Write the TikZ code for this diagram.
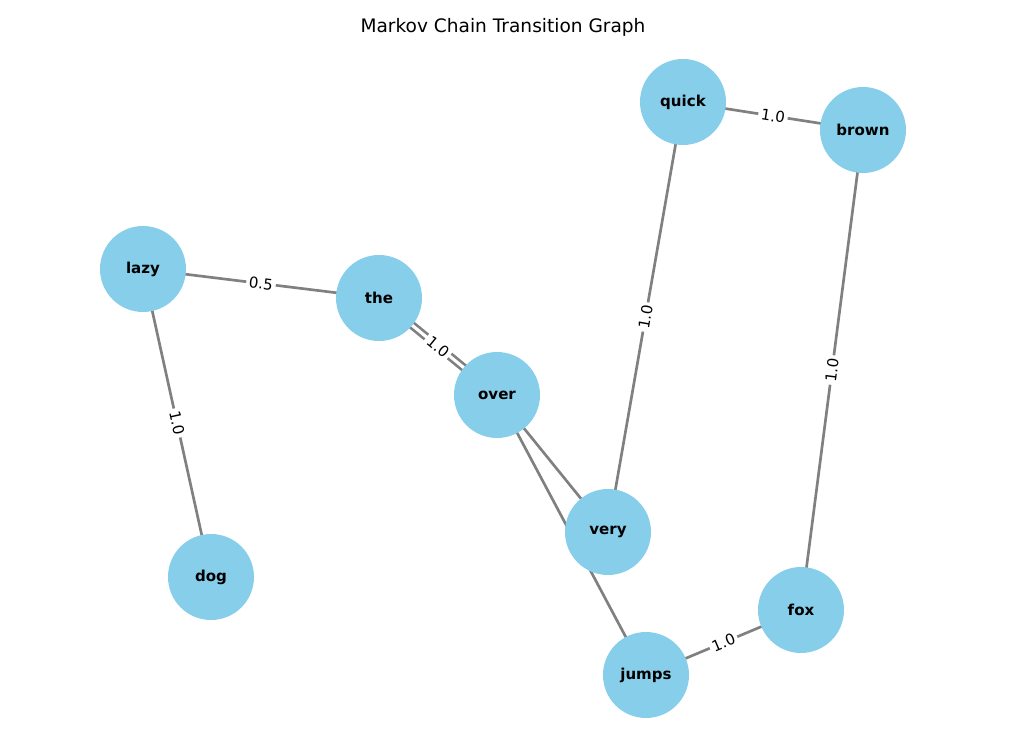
\documentclass[tikz,border=0pt]{standalone}
\usepackage{fontspec}
\setmainfont{DejaVu Sans}
\usetikzlibrary{backgrounds}

\definecolor{skyblue}{HTML}{87CEEB}
\definecolor{edgegray}{HTML}{808080}

\tikzset{
    word/.style={circle, fill=skyblue, minimum size=86*0.025cm, inner sep=0pt, font=\fontsize{10.7}{12}\selectfont\bfseries},
    edge/.style={draw=edgegray, line width=1.9pt},
    weight/.style={midway, sloped, fill=white, rounded corners=2pt, inner sep=2pt, font=\fontsize{10.7}{12}\selectfont}
}

\begin{document}
\begin{tikzpicture}[x=0.025cm, y=-0.025cm]

    \useasboundingbox (0,0) rectangle (1020,740);

    % Title
    \node (title) at (503,27) {\fontsize{13.2}{15}\selectfont Markov Chain Transition Graph};

    % States
    \node[word] (quick) at (683,102) {quick};
    \node[word] (brown) at (863,130) {brown};
    \node[word] (lazy)  at (143,269) {lazy};
    \node[word] (the)   at (379,298) {the};
    \node[word] (over)  at (497,395) {over};
    \node[word] (very)  at (608,532) {very};
    \node[word] (dog)   at (211,577) {dog};
    \node[word] (fox)   at (801,610) {fox};
    \node[word] (jumps) at (646,675) {jumps};

    % Transitions
    \begin{scope}[on background layer]
        \draw[edge] (quick.center) -- (brown.center) node[weight] {1.0};
        \draw[edge] (brown.center) -- (fox.center) node[weight] {1.0};
        \draw[edge] (jumps.center) -- (fox.center) node[weight] {1.0};
        \draw[edge] (quick.center) -- (very.center) node[weight] {1.0};
        \draw[edge] (lazy.center) -- (the.center) node[weight] {0.5};
        \draw[edge] (lazy.center) -- (dog.center) node[weight] {1.0};
        \draw[edge] (over.center) -- (very.center);
        \draw[edge] (over.center) -- (jumps.center);

        % the <-> over, both ways
        \draw[edge, double=white, double distance=2.2pt] (the.center) -- (over.center) node[weight] {1.0};
    \end{scope}

\end{tikzpicture}
\end{document}
